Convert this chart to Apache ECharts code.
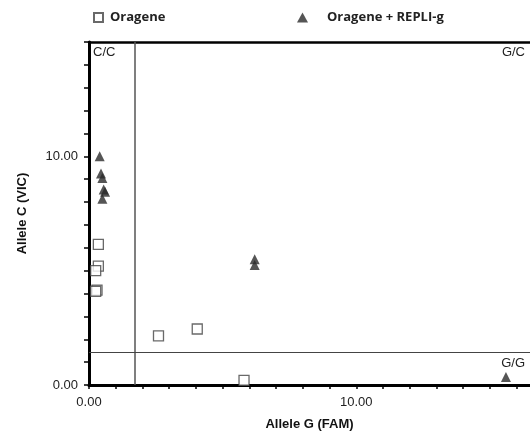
<!DOCTYPE html>
<html>
<head>
<meta charset="utf-8">
<script src="https://cdn.jsdelivr.net/npm/echarts@6/dist/echarts.min.js"></script>
<style>html,body{margin:0;padding:0;background:#fff}#c{width:530px;height:436px}</style>
</head>
<body>
<div id="c"></div>
<script>
// Data (Allele G (FAM) on x, Allele C (VIC) on y)
const orageneX = [0.35, 0.35, 0.25, 0.30, 0.25, 2.60, 4.05, 5.80];
const orageneY = [6.15, 5.20, 5.00, 4.15, 4.10, 2.15, 2.45, 0.20];
const repliX = [0.40, 0.45, 0.50, 0.55, 0.60, 0.50, 6.20, 6.20, 15.60];
const repliY = [10.00, 9.25, 9.05, 8.55, 8.45, 8.15, 5.50, 5.25, 0.35];
const thresholdX = 1.7;
const thresholdY = 1.45;
const xMin = 0, xMax = 16.5, yMin = 0, yMax = 15;
const labeledTicks = [0, 10];
const seriesNames = ['Oragene', 'Oragene + REPLI-g'];
const zoneLabels = ['C/C', 'G/C', 'G/G'];

const chart = echarts.init(document.getElementById('c'));
const fmt = v => labeledTicks.includes(v) ? v.toFixed(2) : '';
const labelFont = {fontFamily: 'Liberation Sans, Arial, sans-serif', fontSize: 13, color: '#222'};
const titleFont = {fontFamily: 'Liberation Sans, Arial, sans-serif', fontSize: 13, fontWeight: 'bold', color: '#111'};

chart.setOption({
  animation: false,
  grid: {left: 89, right: 0, top: 42, bottom: 50, containLabel: false},
  legend: [
    {left: 88, top: 6, itemWidth: 9, itemHeight: 9, itemGap: 0,
     data: [{name: seriesNames[0], icon: 'rect'}],
     textStyle: {fontFamily: 'Open Sans, sans-serif', fontWeight: 'bold', fontSize: 13, color: '#222', padding: [0, 0, 0, 2]}},
    {left: 292, top: 6, itemWidth: 11, itemHeight: 10, itemGap: 0,
     data: [{name: seriesNames[1], icon: 'triangle'}],
     textStyle: {fontFamily: 'Open Sans, sans-serif', fontWeight: 'bold', fontSize: 13, color: '#222', padding: [0, 0, 0, 14]}}
  ],
  xAxis: [{
    type: 'value', min: xMin, max: xMax, interval: 1,
    name: 'Allele G (FAM)', nameLocation: 'middle', nameGap: 33, nameTextStyle: titleFont,
    axisLine: {show: true, lineStyle: {color: '#000', width: 3}},
    axisTick: {show: true, length: 4, lineStyle: {color: '#000', width: 1.5}},
    axisLabel: Object.assign({formatter: fmt, margin: 11, showMaxLabel: false}, labelFont),
    splitLine: {show: false}
  }, {
    type: 'value', position: 'top', min: xMin, max: xMax,
    axisLine: {show: true, onZero: false, lineStyle: {color: '#000', width: 2.5}},
    axisTick: {show: false}, axisLabel: {show: false}, splitLine: {show: false}
  }],
  yAxis: {
    type: 'value', min: yMin, max: yMax, interval: 1,
    name: 'Allele C (VIC)', nameLocation: 'middle', nameGap: 60, nameTextStyle: titleFont,
    axisLine: {show: true, lineStyle: {color: '#000', width: 3}},
    axisTick: {show: true, length: 5, lineStyle: {color: '#000', width: 1.5}},
    axisLabel: Object.assign({formatter: fmt, margin: 11}, labelFont),
    splitLine: {show: false}
  },
  graphic: [
    {type: 'text', left: 93, top: 46, style: {text: zoneLabels[0], font: '13px Liberation Sans, Arial', fill: '#222'}},
    {type: 'text', right: 5, top: 46, style: {text: zoneLabels[1], font: '13px Liberation Sans, Arial', fill: '#222'}},
    {type: 'text', right: 5, top: 357, style: {text: zoneLabels[2], font: '13px Liberation Sans, Arial', fill: '#222'}}
  ],
  series: [{
    name: seriesNames[0], type: 'scatter', symbol: 'rect', symbolSize: 10,
    itemStyle: {color: '#fff', borderColor: '#444', borderWidth: 1.3},
    data: orageneX.map((x, i) => [x, orageneY[i]]),
    z: 3,
    markLine: {
      silent: true, symbol: 'none', animation: false, label: {show: false},
      data: [
        {xAxis: thresholdX, lineStyle: {color: '#555', width: 1.5, type: 'solid'}},
        {yAxis: thresholdY, lineStyle: {color: '#444', width: 1, type: 'solid'}}
      ]
    }
  }, {
    name: seriesNames[1], type: 'scatter', symbol: 'triangle', symbolSize: 10,
    itemStyle: {color: '#2b2b2b'},
    data: repliX.map((x, i) => [x, repliY[i]]),
    z: 4
  }]
});
</script>
</body>
</html>
